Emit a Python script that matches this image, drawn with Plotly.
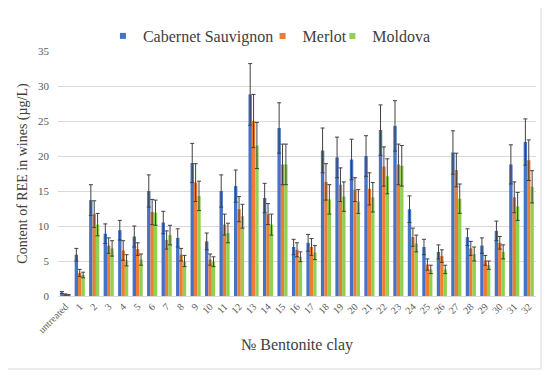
import plotly.graph_objects as go

categories = ["untreated"] + [str(i) for i in range(1, 33)]

cabernet = [0.5, 5.9, 13.7, 8.9, 9.4, 8.5, 15.0, 10.5, 8.3, 19.0, 7.8, 15.0, 15.7, 28.8, 14.0, 24.0,
            7.0, 7.6, 20.8, 19.8, 19.5, 20.0, 23.7, 24.3, 12.4, 7.0, 6.3, 20.5, 8.4, 7.2, 9.3, 18.8, 22.0]
cabernet_err = [0.15, 0.9, 2.2, 1.4, 1.4, 1.5, 2.3, 1.6, 1.3, 2.8, 1.2, 2.3, 2.3, 4.4, 2.1, 3.6,
                1.1, 1.2, 3.2, 2.9, 2.9, 2.9, 3.6, 3.6, 1.9, 1.1, 1.0, 3.1, 1.2, 1.1, 1.4, 2.8, 3.3]

merlot = [0.2, 3.3, 11.7, 7.2, 6.5, 6.7, 12.0, 8.0, 5.9, 16.2, 5.2, 10.2, 12.4, 25.0, 11.7, 18.8,
          6.6, 7.0, 16.3, 15.9, 15.2, 15.3, 18.5, 18.8, 8.4, 4.5, 5.7, 18.0, 6.8, 5.1, 7.6, 14.1, 19.4]
merlot_err = [0.1, 0.5, 1.9, 1.1, 1.4, 0.9, 1.8, 1.3, 0.9, 2.7, 0.8, 1.5, 1.8, 3.8, 1.5, 2.9,
              1.0, 1.2, 2.6, 2.4, 1.7, 2.3, 2.8, 2.9, 1.3, 0.8, 0.9, 2.4, 1.0, 0.7, 0.9, 2.2, 2.9]

moldova = [0.1, 3.0, 10.2, 6.8, 5.1, 5.2, 11.9, 8.7, 5.0, 14.3, 4.9, 9.0, 11.4, 21.5, 10.2, 18.8,
           5.6, 6.2, 13.8, 14.2, 13.5, 14.1, 17.1, 18.6, 7.5, 3.8, 3.8, 13.9, 6.0, 4.4, 6.3, 12.8, 15.6]
moldova_err = [0.1, 0.4, 1.6, 1.1, 0.8, 0.8, 1.8, 1.4, 0.8, 2.1, 0.7, 1.4, 1.7, 3.3, 1.5, 2.9,
               0.7, 1.0, 2.1, 2.1, 1.7, 2.1, 2.5, 2.9, 1.2, 0.6, 0.6, 2.1, 1.0, 0.6, 1.0, 2.0, 2.3]

series = [
    ("Cabernet Sauvignon", cabernet, cabernet_err, "#4472C4", "legend", 0.094),
    ("Merlot", merlot, merlot_err, "#ED7D31", "legend2", 0.428),
    ("Moldova", moldova, moldova_err, "#92D050", "legend3", 0.574),
]

FF = "Times New Roman"
# page body adds an 8px offset; figure coordinates are compensated for it
LEG_Y = (381 - 28) / 381

fig = go.Figure()
legends = {}
for name, vals, errs, color, leg, lx in series:
    fig.add_trace(go.Bar(
        name=name, x=categories, y=vals, marker_color=color, marker_line_width=0,
        legendgroup=name, showlegend=False,
        error_y=dict(type="data", array=errs, visible=True, color="#404040", thickness=1, width=2),
    ))
    fig.add_trace(go.Scatter(
        name=name, x=[None], y=[None], mode="markers", legendgroup=name, legend=leg,
        marker=dict(symbol="square", size=6, color=color), hoverinfo="skip",
    ))
    legends[leg] = dict(orientation="h", x=lx, xanchor="left", y=LEG_Y, yanchor="middle",
                        yref="container",
                        font=dict(size=16, color="#404040", family=FF),
                        itemwidth=30, bgcolor="rgba(0,0,0,0)")

fig.update_layout(
    width=550, height=381,
    paper_bgcolor="white", plot_bgcolor="white",
    margin=dict(l=50, r=22, t=43, b=93, autoexpand=False),
    barmode="group", bargap=0.3, bargroupgap=0,
    font=dict(family=FF, color="#595959"),
    xaxis=dict(
        type="category", tickangle=-45, tickfont=dict(size=10, color="#595959", family=FF),
        showgrid=False, showline=True, linecolor="#D9D9D9", linewidth=1, automargin=False,
        ticks="", title=dict(text="№ Bentonite clay", font=dict(size=16, color="#404040", family=FF), standoff=4),
    ),
    yaxis=dict(
        range=[0, 35], dtick=5, tickfont=dict(size=11, color="#595959", family=FF),
        showgrid=True, gridcolor="#D9D9D9", gridwidth=1, zeroline=False, showline=False,
        ticks="", ticklen=0, ticklabelstandoff=8, automargin=False,
        title=dict(text="Content of REE in wines (µg/L)", font=dict(size=14, color="#404040", family=FF), standoff=7),
    ),
    shapes=[dict(type="rect", xref="paper", yref="paper",
                 x0=(7 - 58) / 478, x1=(541 - 58) / 478,
                 y0=(296 - 369) / 245, y1=(296 - 6) / 245,
                 line=dict(color="#D9D9D9", width=1), fillcolor="rgba(0,0,0,0)", layer="below")],
    **legends,
)

fig.write_html("out.html")
